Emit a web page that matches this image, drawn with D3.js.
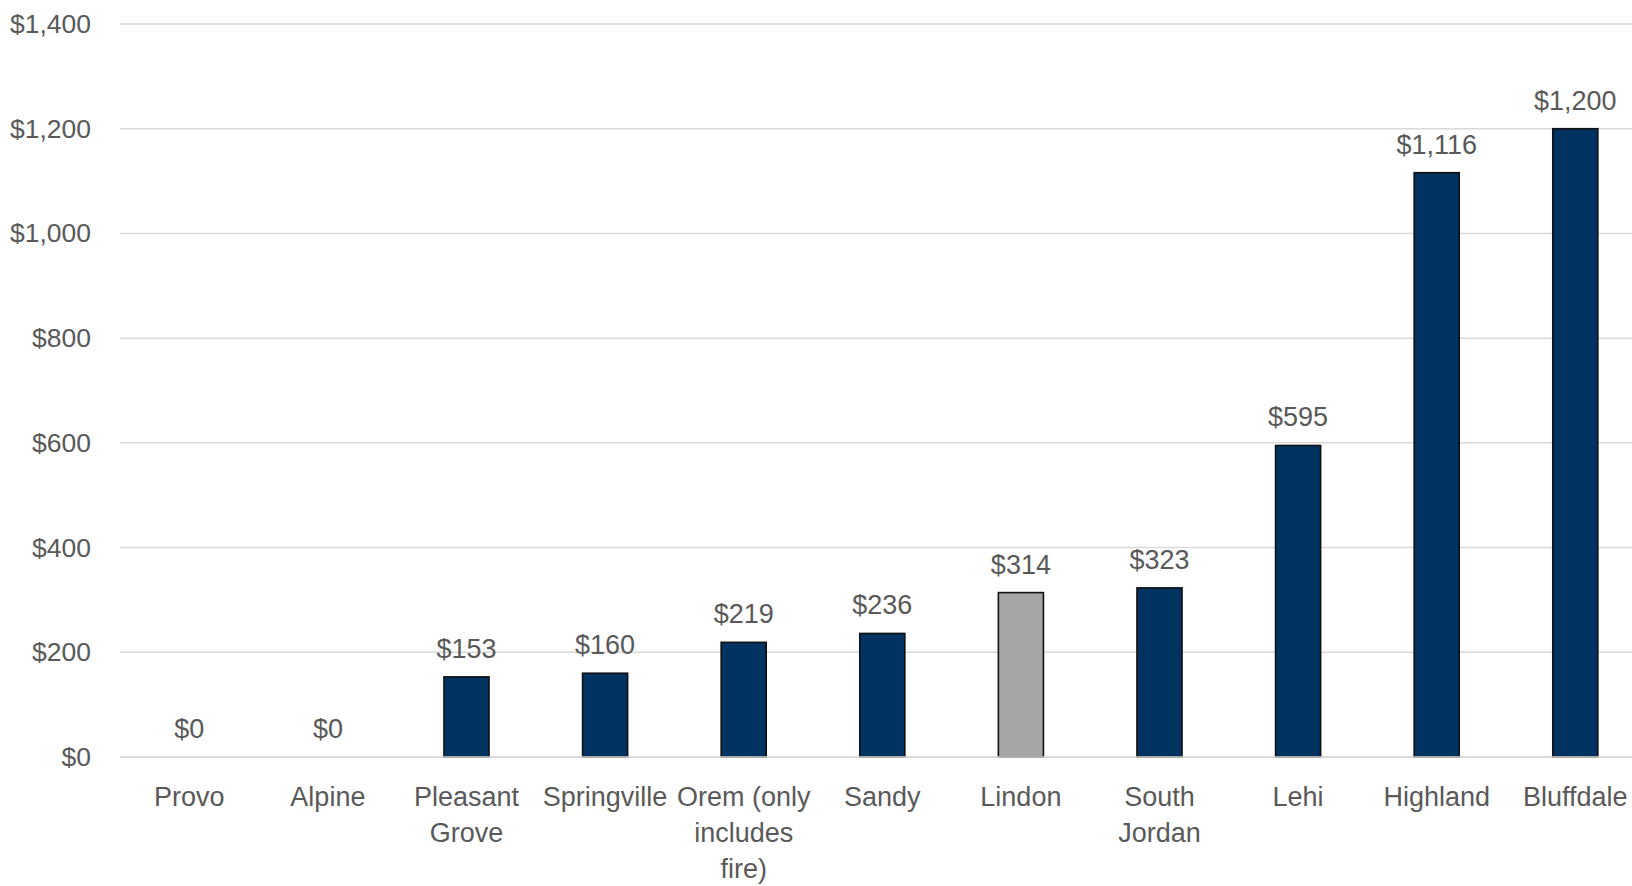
<!DOCTYPE html>
<html>
<head>
<meta charset="utf-8">
<script src="https://cdn.jsdelivr.net/npm/d3@7"></script>
<style>
  html, body { margin: 0; padding: 0; background: #fff; }
  svg { display: block; }
  text { font-family: "Liberation Sans", Arial, sans-serif; fill: #595959; }
</style>
</head>
<body>
<svg id="chart" width="1632" height="886"></svg>
<script>
const categories = [
  ["Provo"], ["Alpine"], ["Pleasant", "Grove"], ["Springville"],
  ["Orem (only", "includes", "fire)"], ["Sandy"], ["Lindon"],
  ["South", "Jordan"], ["Lehi"], ["Highland"], ["Bluffdale"]
];
const values = [0, 0, 153, 160, 219, 236, 314, 323, 595, 1116, 1200];
const highlighted = [false, false, false, false, false, false, true, false, false, false, false];
const yTicks = [0, 200, 400, 600, 800, 1000, 1200, 1400];

const svg = d3.select("#chart");
const keys = categories.map((c, i) => i);
const FS = 27;

const x = d3.scaleBand()
  .domain(keys)
  .range([120, 1644.6])
  .paddingInner(0.675)
  .paddingOuter(0.3375);

const y = d3.scaleLinear().domain([0, 1400]).range([757, 24]);

const fmt = v => "$" + d3.format(",")(v);

// gridlines
svg.append("g").selectAll("line").data(yTicks).join("line")
  .attr("x1", 120).attr("x2", 1632)
  .attr("y1", d => y(d)).attr("y2", d => y(d))
  .attr("stroke", "#d9d9d9").attr("stroke-width", 1.5);

// y axis labels
const yAxis = d3.axisLeft(y).tickValues(yTicks).tickFormat(fmt).tickSize(0).tickPadding(0);
const gy = svg.append("g").attr("transform", "translate(91,0)").call(yAxis);
gy.select(".domain").remove();
gy.selectAll("text").attr("font-size", 26.5).attr("fill", "#595959")
  .style("font-family", '"Liberation Sans", Arial, sans-serif');

// bars
svg.append("g").selectAll("rect").data(values).join("rect")
  .attr("x", (d, i) => x(i))
  .attr("width", x.bandwidth())
  .attr("y", d => y(d))
  .attr("height", d => y(0) - y(d))
  .attr("fill", (d, i) => highlighted[i] ? "#a6a6a6" : "#003262")
  .attr("stroke", "#111")
  .attr("stroke-width", d => d > 0 ? 1.6 : 0);

// zero line on top
svg.append("line").attr("x1", 120).attr("x2", 1632)
  .attr("y1", y(0)).attr("y2", y(0))
  .attr("stroke", "#d9d9d9").attr("stroke-width", 1.5);

// value labels
svg.append("g").selectAll("text").data(values).join("text")
  .attr("x", (d, i) => x(i) + x.bandwidth() / 2)
  .attr("y", d => y(d) - 19)
  .attr("text-anchor", "middle")
  .attr("font-size", FS)
  .text(d => fmt(d));

// category labels
const xl = svg.append("g").selectAll("text").data(categories).join("text")
  .attr("x", (d, i) => x(i) + x.bandwidth() / 2)
  .attr("y", 806)
  .attr("text-anchor", "middle")
  .attr("font-size", FS);
xl.selectAll("tspan").data(d => d).join("tspan")
  .attr("x", function() { return d3.select(this.parentNode).attr("x"); })
  .attr("dy", (d, i) => i === 0 ? 0 : 36)
  .text(d => d);
</script>
</body>
</html>
